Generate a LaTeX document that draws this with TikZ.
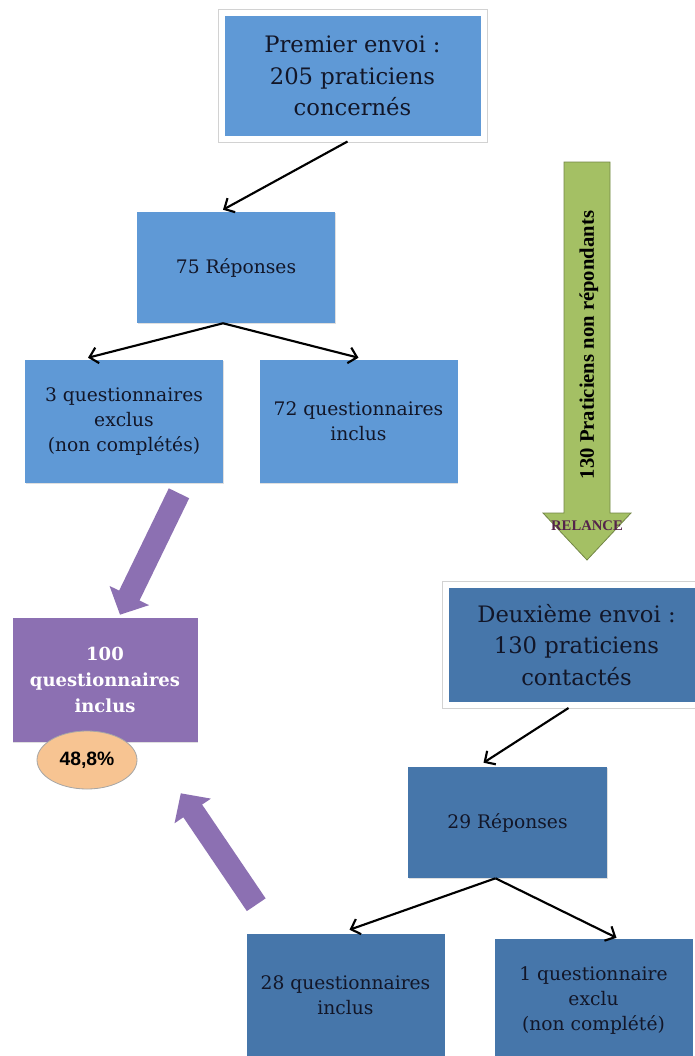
\documentclass[tikz,border=0pt]{standalone}
\usepackage{fontspec}
\setmainfont{DejaVu Serif}
\newfontfamily\relfont{Liberation Serif}
\newfontfamily\pctfont{Liberation Sans}
\usetikzlibrary{arrows.meta,shapes.geometric,shadows,calc}
\definecolor{lightblue}{RGB}{95,153,214}
\definecolor{darkblue}{RGB}{70,118,170}
\definecolor{mauve}{RGB}{140,112,178}
\definecolor{olivegreen}{RGB}{164,192,100}
\definecolor{peach}{RGB}{247,196,146}
\definecolor{inktext}{RGB}{18,22,40}
\definecolor{relancetext}{RGB}{85,35,75}

\begin{document}
\begin{tikzpicture}[x=0.75pt,y=-0.75pt,
    box/.style={rectangle,text=inktext,align=center,inner sep=0pt,
      font=\fontsize{14}{19}\selectfont,minimum width=148.5pt,minimum height=92.25pt,
      drop shadow={shadow xshift=0.6pt,shadow yshift=-1pt,opacity=0.25}},
    envoi/.style={box,draw=white,line width=4.5pt,minimum width=196.5pt,
      font=\fontsize{17}{23.6}\selectfont,preaction={draw=gray!35,line width=6pt}},
    link/.style={draw=black,line width=1.6pt,-{Straight Barb[length=6pt,width=12pt]}},
    fatarrow/.style={draw=mauve,line width=17pt,-{Triangle[length=16pt,width=32pt]}}]

    \useasboundingbox (0,0) rectangle (694,1056);
    \fill[white] (0,0) rectangle (694,1056);

    % first mailing
    \node[envoi,fill=lightblue,minimum height=93.75pt] (top) at (352.5,76) {Premier envoi :\\205 praticiens\\concernés};
    \node[box,fill=lightblue,minimum height=83.25pt] (r75) at (236,267.5) {75 Réponses};
    \node[box,fill=lightblue] (excl) at (124,421.5) {3 questionnaires\\exclus\\(non complétés)};
    \node[box,fill=lightblue] (incl) at (358.5,421.5) {72 questionnaires\\inclus};

    % second mailing
    \node[envoi,fill=darkblue,minimum height=90pt] (deux) at (576.5,645) {Deuxième envoi :\\130 praticiens\\contactés};
    \node[box,fill=darkblue,minimum width=149.25pt,minimum height=83.25pt] (r29) at (507.5,822.5) {29 Réponses};
    \node[box,fill=darkblue] (inc28) at (345.5,995.5) {28 questionnaires\\inclus};
    \node[box,fill=darkblue] (exc1) at (593.5,1000.5) {1 questionnaire\\exclu\\(non complété)};

    % total
    \node[box,fill=mauve,text=white,minimum width=138.75pt,minimum height=93pt,
      font=\bfseries\fontsize{13.5}{19.5}\selectfont] (total) at (105,680) {100\\questionnaires\\inclus};
    \node[ellipse,fill=peach,draw=gray!70,line width=0.6pt,minimum width=75pt,minimum height=43.5pt,
      font=\pctfont\bfseries\fontsize{14.5}{16}\selectfont,text=black] (pct) at (87,760) {48,8\%};

    \draw[link] ($(top.south)+(-5,0)$) -- ($(r75.north)+(-13,-2)$);
    \draw[link] ($(r75.south)+(-13,0)$) -- ($(excl.north)+(-36,-2)$);
    \draw[link] ($(r75.south)+(-13,0)$) -- ($(incl.north)+(0,-2)$);
    \draw[link] ($(deux.south)+(-8,0)$) -- ($(r29.north)+(-24,-4)$);
    \draw[link] ($(r29.south)+(-12,0)$) -- ($(inc28.north)+(4,-4)$);
    \draw[link] ($(r29.south)+(-12,0)$) -- ($(exc1.north)+(23,-1)$);

    \draw[fatarrow] ($(excl.south)+(55,10)$) -- ($(total.north)+(15,-3)$);
    \draw[fatarrow] ($(inc28.north west)+(10,-29)$) -- ($(total.south east)+(-17,51)$);

    % relance arrow
    \filldraw[fill=olivegreen,draw=olivegreen!70!black,line width=0.6pt]
      (564,162) -- (610,162) -- (610,513) -- (631,513) -- (587,560) -- (543,513) -- (564,513) -- cycle;
    \node[rotate=90,font=\relfont\bfseries\fontsize{15.5}{18}\selectfont] (nonrep) at (589,345) {130 Praticiens non répondants};
    \node[font=\relfont\bfseries\fontsize{11}{12}\selectfont,text=relancetext] (relance) at (587,526) {RELANCE};
\end{tikzpicture}
\end{document}
